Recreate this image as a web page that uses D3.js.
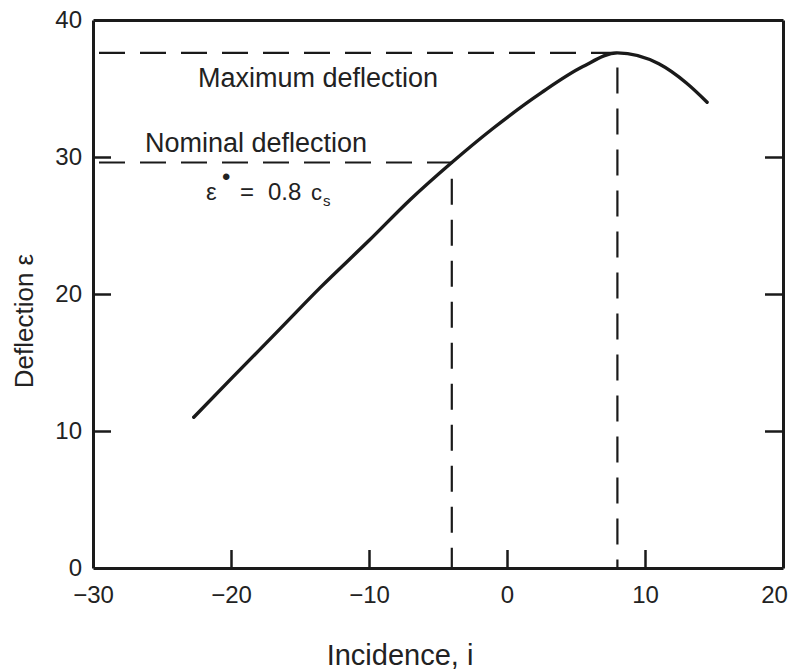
<!DOCTYPE html>
<html>
<head>
<meta charset="utf-8">
<script src="https://cdn.jsdelivr.net/npm/d3@7"></script>
<style>
  body { margin: 0; background: #fff; }
  svg { display: block; font-family: "Liberation Sans", Arial, sans-serif; }
</style>
</head>
<body>
<div id="chart"></div>
<script>
// curve: incidence (deg) vs deflection (deg)
const incidence  = [-22.7, -20, -16.5, -13.5, -10, -7, -4, -1, 2.5, 5.5, 8, 11, 13, 14.5];
const deflection = [11.0, 13.8, 17.4, 20.5, 23.9, 26.9, 29.6, 32.1, 34.7, 36.6, 37.6, 36.8, 35.4, 34.0];

const xTicks = [-30, -20, -10, 0, 10, 20];
const yTicks = [0, 10, 20, 30, 40];

const maxPoint = { i: 8, e: 37.6 };
const nominalPoint = { i: -4, e: 29.6 };

const width = 795, height = 672;
const margin = { top: 20, right: 12, bottom: 104, left: 93 };
const innerW = width - margin.left - margin.right;
const innerH = height - margin.top - margin.bottom;

const svg = d3.select('#chart').append('svg')
  .attr('width', width)
  .attr('height', height);

const g = svg.append('g')
  .attr('transform', `translate(${margin.left},${margin.top})`);

const x = d3.scaleLinear().domain([-30, 20]).range([0, innerW]);
const y = d3.scaleLinear().domain([0, 40]).range([innerH, 0]);

const ink = '#1a1a1a';
const tickLen = 18;

// ---- dashed guide lines
const dash = '26,15';
const guides = [
  [[-30, maxPoint.e], [maxPoint.i, maxPoint.e], [maxPoint.i, 0]],
  [[-30, nominalPoint.e], [nominalPoint.i, nominalPoint.e], [nominalPoint.i, 0]]
];
g.selectAll('path.guide')
  .data(guides)
  .enter().append('path')
  .attr('class', 'guide')
  .attr('d', d3.line().x(d => x(d[0])).y(d => y(d[1])))
  .attr('fill', 'none')
  .attr('stroke', ink)
  .attr('stroke-width', 2.2)
  .attr('stroke-dasharray', dash)
  .attr('stroke-dashoffset', -6);

// ---- main curve
const pts = incidence.map((v, k) => [v, deflection[k]]);
g.append('path')
  .datum(pts)
  .attr('d', d3.line().x(d => x(d[0])).y(d => y(d[1])).curve(d3.curveMonotoneX))
  .attr('fill', 'none')
  .attr('stroke', ink)
  .attr('stroke-width', 3.4)
  .attr('stroke-linecap', 'round');

// ---- axes with inward ticks
const axBottom = g.append('g')
  .attr('transform', `translate(0,${innerH})`)
  .call(d3.axisBottom(x).tickValues(xTicks).tickSizeInner(-tickLen).tickSizeOuter(0)
    .tickPadding(18).tickFormat(d => d < 0 ? '\u2212' + Math.abs(d) : d));

const axLeft = g.append('g')
  .call(d3.axisLeft(y).tickValues(yTicks).tickSizeInner(-tickLen).tickSizeOuter(0)
    .tickPadding(11));

const axRight = g.append('g')
  .attr('transform', `translate(${innerW},0)`)
  .call(d3.axisRight(y).tickValues([10, 20, 30]).tickSizeInner(-tickLen).tickSizeOuter(0)
    .tickFormat(''));

const axTop = g.append('g')
  .call(d3.axisTop(x).tickValues([]).tickSizeOuter(0));

[axBottom, axLeft, axRight, axTop].forEach(ax => {
  ax.select('.domain').attr('stroke', ink).attr('stroke-width', 3);
  ax.selectAll('.tick line').attr('stroke', ink).attr('stroke-width', 2.5);
  ax.selectAll('.tick text').attr('fill', '#222').attr('font-size', 24);
});

// hide the corner ticks that sit on the frame
axBottom.selectAll('.tick').filter(d => d === -30 || d === 20).select('line').remove();
axLeft.selectAll('.tick').filter(d => d === 0 || d === 40).select('line').remove();
// last label sits a bit inside the frame edge
axBottom.selectAll('.tick').filter(d => d === 20).select('text').attr('dx', -9);

// ---- annotations
g.append('text')
  .attr('x', 198 - margin.left).attr('y', 87 - margin.top)
  .attr('font-size', 27).attr('fill', '#222')
  .text('Maximum deflection');

g.append('text')
  .attr('x', 145 - margin.left).attr('y', 152 - margin.top)
  .attr('font-size', 27).attr('fill', '#222')
  .text('Nominal deflection');

const eq = g.append('text')
  .attr('y', 200 - margin.top)
  .attr('font-size', 24).attr('fill', '#222');
eq.append('tspan').attr('x', 206 - margin.left).text('\u03b5');
eq.append('tspan').attr('x', 222 - margin.left).attr('dy', -15).attr('font-size', 24).text('\u2022');
eq.append('tspan').attr('x', 240 - margin.left).attr('dy', 15).text('=');
eq.append('tspan').attr('x', 268 - margin.left).text('0.8');
eq.append('tspan').attr('x', 311 - margin.left).attr('font-size', 22).text('c');
eq.append('tspan').attr('x', 323 - margin.left).attr('dy', 6).attr('font-size', 15).text('s');

// ---- axis titles
svg.append('text')
  .attr('x', 400).attr('y', 665)
  .attr('text-anchor', 'middle')
  .attr('font-size', 29).attr('fill', '#222')
  .text('Incidence, i');

svg.append('text')
  .attr('transform', 'translate(33,321) rotate(-90)')
  .attr('text-anchor', 'middle')
  .attr('font-size', 26).attr('fill', '#222')
  .text('Deflection \u03b5');
</script>
</body>
</html>
